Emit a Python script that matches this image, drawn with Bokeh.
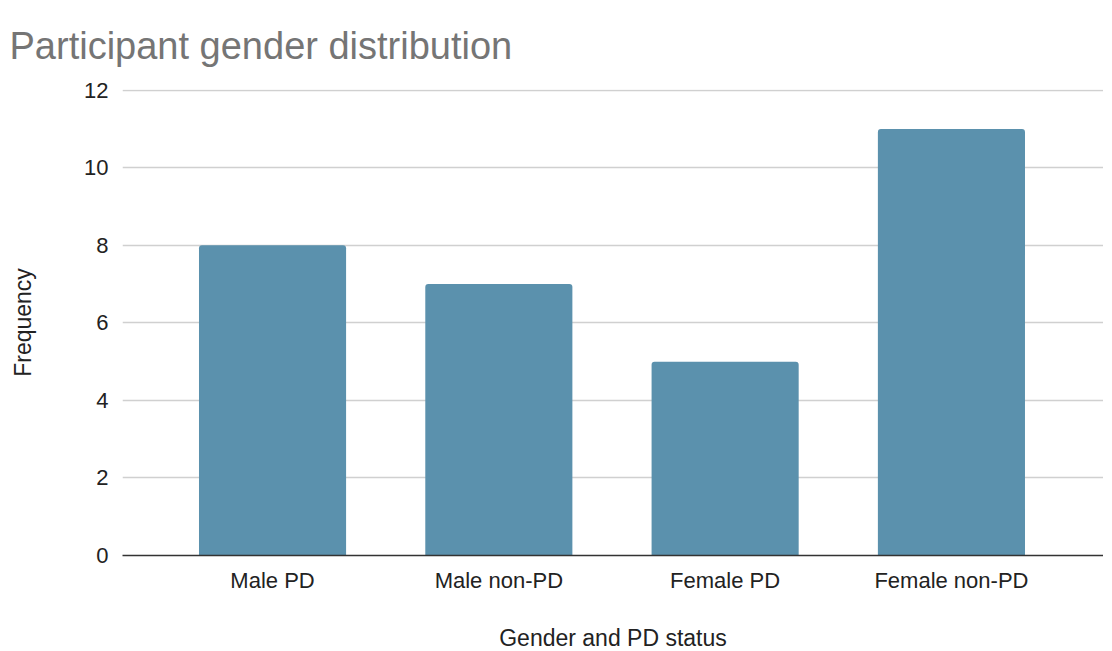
from bokeh.plotting import figure
from bokeh.models import Range1d, FixedTicker, ColumnDataSource
from bokeh.embed import file_html
from bokeh.resources import INLINE

categories = ["Male PD", "Male non-PD", "Female PD", "Female non-PD"]
frequency = [8, 7, 5, 11]
y_ticks = [0, 2, 4, 6, 8, 10, 12]
title_text = "Participant gender distribution"

FONT = "Liberation Sans"
BAR = "#5b91ad"

positions = list(range(len(categories)))
src = ColumnDataSource(dict(x=positions, val=frequency))

p = figure(
    x_range=Range1d(-0.663, len(categories) - 1 + 0.672),
    y_range=Range1d(0, 12.02),
    width=1104, height=635,
    frame_width=981, frame_height=466,
    output_backend="svg", toolbar_location=None,
    title=title_text,
    min_border_left=122, min_border_right=0, min_border_top=89, min_border_bottom=10,
)

p.vbar(x="x", top="val", width=0.65, source=src, color=BAR, line_color=None,
       border_radius=(3, 3, 0, 0))

p.title.text_font = FONT
p.title.text_font_size = "38px"
p.title.text_font_style = "normal"
p.title.text_color = "#757575"
p.title.offset = -113
p.title.standoff = 41
p.title.vertical_align = "top"

p.outline_line_color = None
p.xgrid.grid_line_color = None
p.ygrid.grid_line_color = "#d0d0d0"
p.ygrid.grid_line_width = 1.5
p.yaxis.ticker = FixedTicker(ticks=y_ticks)
p.xaxis.ticker = FixedTicker(ticks=positions)
p.xaxis.major_label_overrides = {i: c for i, c in zip(positions, categories)}

for ax in (p.xaxis, p.yaxis):
    ax.major_tick_line_color = None
    ax.minor_tick_line_color = None
    ax.major_label_text_font = FONT
    ax.major_label_text_font_size = "22px"
    ax.major_label_text_color = "#222222"
    ax.axis_label_text_font = FONT
    ax.axis_label_text_font_size = "23px"
    ax.axis_label_text_font_style = "normal"
    ax.axis_label_text_color = "#222222"

p.yaxis.axis_line_color = None
p.yaxis.major_label_standoff = 8
p.yaxis.axis_label = "Frequency"
p.yaxis.axis_label_standoff = 45

p.xaxis.axis_line_color = "#333333"
p.xaxis.axis_line_width = 1.5
p.xaxis.major_label_standoff = 6
p.xaxis.axis_label = "Gender and PD status"
p.xaxis.axis_label_standoff = 29

open("out.html", "w").write(file_html(p, INLINE))
